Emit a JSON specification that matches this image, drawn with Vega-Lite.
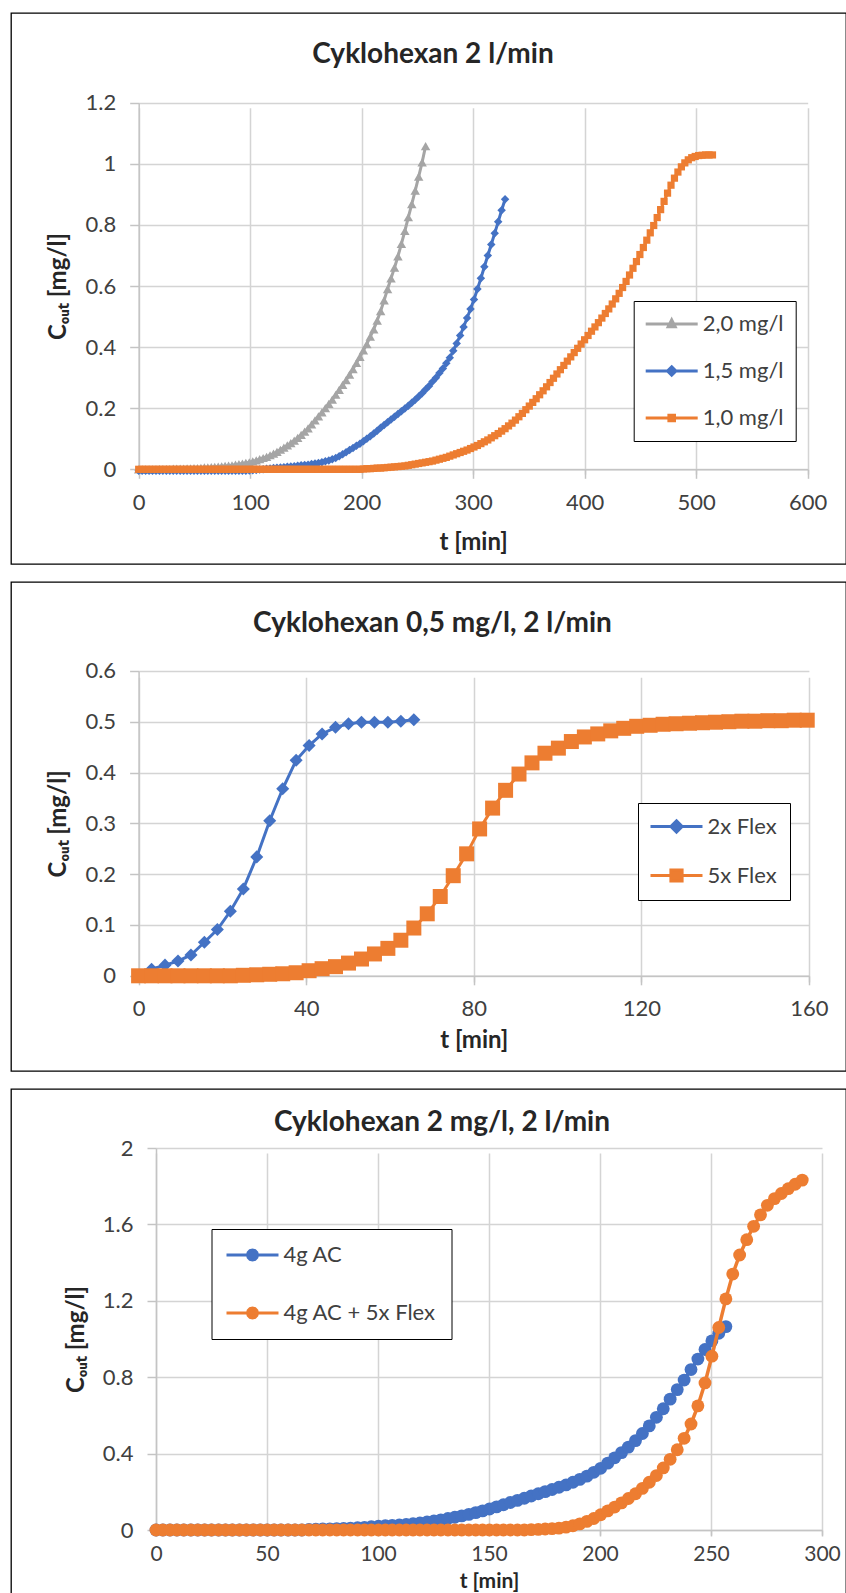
{
"$schema": "https://vega.github.io/schema/vega-lite/v6.json",
"padding": {"left": 10, "top": 12, "right": 0, "bottom": 0},
"spacing": 16,
"resolve": {"scale": {"color": "independent"}, "legend": {"color": "independent"}},
"config": {
 "font": "Lato",
 "view": {"stroke": "#000000", "strokeWidth": 1.3},
 "title": {"font": "Lato", "fontSize": 28, "fontWeight": "bold", "color": "#262626"},
 "axis": {"labelFont": "Lato", "labelFontSize": 22, "labelColor": "#404040", "labelPadding": 14, "labelFlush": false, "labelOverlap": false, "titleFont": "Lato", "titleFontSize": 24, "titleFontWeight": "bold", "titleColor": "#262626", "gridColor": "#D4D4D4", "gridWidth": 1.5, "domainColor": "#C4C4C4", "domainWidth": 1.5, "tickColor": "#C4C4C4", "tickWidth": 1.5, "tickSize": 9},
 "legend": {"labelFont": "Lato", "labelFontSize": 22, "labelColor": "#404040", "strokeColor": "#000000", "fillColor": "#ffffff", "symbolSize": 196, "symbolStrokeWidth": 3, "labelOffset": 35, "direction": "vertical", "orient": "none"}
},
"datasets": {
"p1": [
{"t":0,"a":0,"b":-0.005,"c":0},{"t":3.1,"a":0,"b":-0.005,"c":0},{"t":6.2,"a":0,"b":-0.005,"c":0},{"t":9.3,"a":0,"b":-0.005,"c":0},{"t":12.4,"a":0,"b":-0.005,"c":0},{"t":15.5,"a":0,"b":-0.005,"c":0},{"t":18.6,"a":0.001,"b":-0.005,"c":0},{"t":21.7,"a":0.001,"b":-0.005,"c":0},{"t":24.8,"a":0.001,"b":-0.005,"c":0},{"t":27.9,"a":0.001,"b":-0.005,"c":0},
{"t":31,"a":0.002,"b":-0.005,"c":0},{"t":34.1,"a":0.002,"b":-0.005,"c":0},{"t":37.2,"a":0.002,"b":-0.005,"c":0},{"t":40.3,"a":0.002,"b":-0.005,"c":0},{"t":43.4,"a":0.003,"b":-0.005,"c":0},{"t":46.5,"a":0.003,"b":-0.005,"c":0},{"t":49.6,"a":0.004,"b":-0.005,"c":0},{"t":52.7,"a":0.004,"b":-0.005,"c":0},{"t":55.8,"a":0.005,"b":-0.005,"c":0},{"t":58.9,"a":0.006,"b":-0.005,"c":0},
{"t":62,"a":0.006,"b":-0.005,"c":0},{"t":65.1,"a":0.007,"b":-0.005,"c":0},{"t":68.2,"a":0.008,"b":-0.005,"c":0},{"t":71.3,"a":0.009,"b":-0.005,"c":0},{"t":74.4,"a":0.010,"b":-0.005,"c":0},{"t":77.5,"a":0.011,"b":-0.005,"c":0},{"t":80.6,"a":0.012,"b":-0.005,"c":0},{"t":83.7,"a":0.013,"b":-0.005,"c":0},{"t":86.8,"a":0.015,"b":-0.005,"c":0},{"t":89.9,"a":0.017,"b":-0.005,"c":0},
{"t":93,"a":0.019,"b":-0.005,"c":0},{"t":96.1,"a":0.021,"b":-0.005,"c":0},{"t":99.2,"a":0.023,"b":-0.004,"c":0},{"t":102.3,"a":0.026,"b":-0.003,"c":0},{"t":105.4,"a":0.029,"b":-0.002,"c":0},{"t":108.5,"a":0.033,"b":-0.001,"c":0},{"t":111.6,"a":0.037,"b":0,"c":0},{"t":114.7,"a":0.041,"b":0.002,"c":0},{"t":117.8,"a":0.046,"b":0.003,"c":0},{"t":120.9,"a":0.051,"b":0.004,"c":0},
{"t":124,"a":0.057,"b":0.005,"c":0},{"t":127.1,"a":0.064,"b":0.006,"c":0},{"t":130.2,"a":0.071,"b":0.007,"c":0},{"t":133.3,"a":0.078,"b":0.008,"c":0},{"t":136.4,"a":0.086,"b":0.009,"c":0},{"t":139.5,"a":0.094,"b":0.010,"c":0},{"t":142.6,"a":0.103,"b":0.012,"c":0},{"t":145.7,"a":0.113,"b":0.013,"c":0},{"t":148.8,"a":0.123,"b":0.014,"c":0},{"t":151.9,"a":0.134,"b":0.015,"c":0},
{"t":155,"a":0.147,"b":0.017,"c":0},{"t":158.1,"a":0.160,"b":0.019,"c":0},{"t":161.2,"a":0.173,"b":0.021,"c":0},{"t":164.3,"a":0.186,"b":0.023,"c":0},{"t":167.4,"a":0.200,"b":0.026,"c":0},{"t":170.5,"a":0.214,"b":0.029,"c":0},{"t":173.6,"a":0.228,"b":0.033,"c":0},{"t":176.7,"a":0.244,"b":0.037,"c":0},{"t":179.8,"a":0.260,"b":0.043,"c":0},{"t":182.9,"a":0.276,"b":0.049,"c":0},
{"t":186,"a":0.292,"b":0.056,"c":0},{"t":189.1,"a":0.310,"b":0.063,"c":0},{"t":192.2,"a":0.328,"b":0.070,"c":0},{"t":195.3,"a":0.348,"b":0.077,"c":0},{"t":198.4,"a":0.368,"b":0.084,"c":0},{"t":201.5,"a":0.389,"b":0.092,"c":0.001},{"t":204.6,"a":0.41,"b":0.100,"c":0.002},{"t":207.7,"a":0.434,"b":0.108,"c":0.002},{"t":210.8,"a":0.458,"b":0.117,"c":0.003},{"t":213.9,"a":0.487,"b":0.126,"c":0.004},
{"t":217,"a":0.518,"b":0.136,"c":0.004},{"t":220.1,"a":0.553,"b":0.145,"c":0.005},{"t":223.2,"a":0.590,"b":0.154,"c":0.006},{"t":226.3,"a":0.625,"b":0.163,"c":0.007},{"t":229.4,"a":0.660,"b":0.172,"c":0.008},{"t":232.5,"a":0.697,"b":0.181,"c":0.009},{"t":235.6,"a":0.738,"b":0.190,"c":0.010},{"t":238.7,"a":0.780,"b":0.199,"c":0.011},{"t":241.8,"a":0.825,"b":0.208,"c":0.013},{"t":244.9,"a":0.868,"b":0.218,"c":0.015},
{"t":248,"a":0.912,"b":0.228,"c":0.017},{"t":251.1,"a":0.958,"b":0.238,"c":0.019},{"t":254.2,"a":1.005,"b":0.249,"c":0.021},{"t":257.3,"a":1.058,"b":0.261,"c":0.023},{"t":260.4,"b":0.273,"c":0.025},{"t":263.5,"b":0.287,"c":0.027},{"t":266.6,"b":0.300,"c":0.030},{"t":269.7,"b":0.315,"c":0.033},{"t":272.8,"b":0.330,"c":0.036},{"t":275.9,"b":0.347,"c":0.039},
{"t":279,"b":0.365,"c":0.043},{"t":282.1,"b":0.388,"c":0.047},{"t":285.2,"b":0.412,"c":0.051},{"t":288.3,"b":0.438,"c":0.055},{"t":291.4,"b":0.466,"c":0.059},{"t":294.5,"b":0.495,"c":0.063},{"t":297.6,"b":0.525,"c":0.068},{"t":300.7,"b":0.556,"c":0.073},{"t":303.8,"b":0.590,"c":0.078},{"t":306.9,"b":0.625,"c":0.084},
{"t":310,"b":0.663,"c":0.090},{"t":313.1,"b":0.700,"c":0.096},{"t":316.2,"b":0.736,"c":0.103},{"t":319.3,"b":0.773,"c":0.110},{"t":322.4,"b":0.810,"c":0.117},{"t":325.5,"b":0.848,"c":0.125},{"t":328.6,"b":0.884,"c":0.133},{"t":331.7,"c":0.142},{"t":334.8,"c":0.151},{"t":337.9,"c":0.161},
{"t":341,"c":0.172},{"t":344.1,"c":0.183},{"t":347.2,"c":0.195},{"t":350.3,"c":0.207},{"t":353.4,"c":0.219},{"t":356.5,"c":0.231},{"t":359.6,"c":0.244},{"t":362.7,"c":0.257},{"t":365.8,"c":0.270},{"t":368.9,"c":0.284},
{"t":372,"c":0.298},{"t":375.1,"c":0.312},{"t":378.2,"c":0.326},{"t":381.3,"c":0.340},{"t":384.4,"c":0.354},{"t":387.5,"c":0.368},{"t":390.6,"c":0.382},{"t":393.7,"c":0.396},{"t":396.8,"c":0.410},{"t":399.9,"c":0.424},
{"t":403,"c":0.438},{"t":406.1,"c":0.452},{"t":409.2,"c":0.466},{"t":412.3,"c":0.480},{"t":415.4,"c":0.495},{"t":418.5,"c":0.510},{"t":421.6,"c":0.525},{"t":424.7,"c":0.541},{"t":427.8,"c":0.558},{"t":430.9,"c":0.576},
{"t":434,"c":0.595},{"t":437.1,"c":0.615},{"t":440.2,"c":0.636},{"t":443.3,"c":0.658},{"t":446.4,"c":0.680},{"t":449.5,"c":0.703},{"t":452.6,"c":0.726},{"t":455.7,"c":0.750},{"t":458.8,"c":0.774},{"t":461.9,"c":0.798},
{"t":465,"c":0.824},{"t":468.1,"c":0.850},{"t":471.2,"c":0.877},{"t":474.3,"c":0.904},{"t":477.4,"c":0.930},{"t":480.5,"c":0.953},{"t":483.6,"c":0.973},{"t":486.7,"c":0.990},{"t":489.8,"c":1.003},{"t":492.9,"c":1.013},
{"t":496,"c":1.020},{"t":499.1,"c":1.024},{"t":502.2,"c":1.027},{"t":505.3,"c":1.028},{"t":508.4,"c":1.029},{"t":511.5,"c":1.029},{"t":514.6,"c":1.029}
],
"p2": [
{"t":0,"a":0,"b":0},{"t":3.1,"a":0.013,"b":0},{"t":6.3,"a":0.021,"b":0},{"t":9.4,"a":0.029,"b":0},{"t":12.5,"a":0.041,"b":0},{"t":15.7,"a":0.066,"b":0},{"t":18.8,"a":0.091,"b":0},{"t":21.9,"a":0.127,"b":0},{"t":25,"a":0.171,"b":0.001},{"t":28.2,"a":0.234,"b":0.002},
{"t":31.3,"a":0.305,"b":0.003},{"t":34.4,"a":0.368,"b":0.004},{"t":37.6,"a":0.424,"b":0.006},{"t":40.7,"a":0.453,"b":0.010},{"t":43.8,"a":0.476,"b":0.014},{"t":47,"a":0.489,"b":0.018},{"t":50.1,"a":0.496,"b":0.025},{"t":53.2,"a":0.499,"b":0.033},{"t":56.3,"a":0.499,"b":0.043},{"t":59.5,"a":0.499,"b":0.054},
{"t":62.6,"a":0.501,"b":0.070},{"t":65.7,"a":0.504,"b":0.094},{"t":68.9,"b":0.122},{"t":72,"b":0.156},{"t":75.1,"b":0.197},{"t":78.3,"b":0.240},{"t":81.4,"b":0.289},{"t":84.5,"b":0.330},{"t":87.6,"b":0.365},{"t":90.8,"b":0.397},
{"t":93.9,"b":0.419},{"t":97,"b":0.438},{"t":100.2,"b":0.448},{"t":103.3,"b":0.461},{"t":106.4,"b":0.470},{"t":109.6,"b":0.476},{"t":112.7,"b":0.482},{"t":115.8,"b":0.487},{"t":118.9,"b":0.491},{"t":122.1,"b":0.493},
{"t":125.2,"b":0.495},{"t":128.3,"b":0.496},{"t":131.5,"b":0.497},{"t":134.6,"b":0.498},{"t":137.7,"b":0.499},{"t":140.9,"b":0.5},{"t":144,"b":0.501},{"t":147.1,"b":0.501},{"t":150.2,"b":0.502},{"t":153.4,"b":0.502},
{"t":156.5,"b":0.503},{"t":159.6,"b":0.503}
],
"p3": [
{"t":0,"a":0,"b":0},{"t":3.1,"a":0,"b":0},{"t":6.3,"a":0,"b":0},{"t":9.4,"a":0,"b":0},{"t":12.5,"a":0,"b":0},{"t":15.7,"a":0,"b":0},{"t":18.8,"a":0,"b":0},{"t":21.9,"a":0,"b":0},{"t":25,"a":0,"b":0},{"t":28.2,"a":0,"b":0},
{"t":31.3,"a":0,"b":0},{"t":34.4,"a":0,"b":0},{"t":37.6,"a":0,"b":0},{"t":40.7,"a":0,"b":0},{"t":43.8,"a":0,"b":0},{"t":47,"a":0,"b":0},{"t":50.1,"a":0,"b":0},{"t":53.2,"a":0,"b":0},{"t":56.3,"a":0,"b":0},{"t":59.5,"a":0,"b":0},
{"t":62.6,"a":0,"b":0},{"t":65.7,"a":0,"b":0},{"t":68.9,"a":0.003,"b":0},{"t":72,"a":0.004,"b":0},{"t":75.1,"a":0.005,"b":0},{"t":78.3,"a":0.006,"b":0},{"t":81.4,"a":0.007,"b":0},{"t":84.5,"a":0.008,"b":0},{"t":87.6,"a":0.010,"b":0},{"t":90.8,"a":0.012,"b":0},
{"t":93.9,"a":0.014,"b":0},{"t":97,"a":0.017,"b":0},{"t":100.2,"a":0.020,"b":0},{"t":103.3,"a":0.022,"b":0},{"t":106.4,"a":0.024,"b":0},{"t":109.6,"a":0.026,"b":0},{"t":112.7,"a":0.029,"b":0},{"t":115.8,"a":0.033,"b":0},{"t":118.9,"a":0.037,"b":0},{"t":122.1,"a":0.042,"b":0},
{"t":125.2,"a":0.047,"b":0},{"t":128.3,"a":0.053,"b":0},{"t":131.5,"a":0.060,"b":0},{"t":134.6,"a":0.067,"b":0},{"t":137.7,"a":0.074,"b":0},{"t":140.9,"a":0.082,"b":0},{"t":144,"a":0.091,"b":0},{"t":147.1,"a":0.100,"b":0},{"t":150.2,"a":0.110,"b":0},{"t":153.4,"a":0.121,"b":0},
{"t":156.5,"a":0.132,"b":0},{"t":159.6,"a":0.144,"b":0},{"t":162.8,"a":0.155,"b":0},{"t":165.9,"a":0.166,"b":0},{"t":169,"a":0.178,"b":0.002},{"t":172.2,"a":0.190,"b":0.003},{"t":175.3,"a":0.201,"b":0.005},{"t":178.4,"a":0.212,"b":0.007},{"t":181.5,"a":0.224,"b":0.010},{"t":184.7,"a":0.236,"b":0.015},
{"t":187.8,"a":0.250,"b":0.022},{"t":190.9,"a":0.265,"b":0.032},{"t":194.1,"a":0.282,"b":0.045},{"t":197.2,"a":0.302,"b":0.060},{"t":200.3,"a":0.323,"b":0.080},{"t":203.5,"a":0.350,"b":0.100},{"t":206.6,"a":0.378,"b":0.120},{"t":209.7,"a":0.405,"b":0.142},{"t":212.8,"a":0.434,"b":0.165},{"t":216,"a":0.468,"b":0.190},
{"t":219.1,"a":0.505,"b":0.218},{"t":222.2,"a":0.545,"b":0.250},{"t":225.4,"a":0.590,"b":0.285},{"t":228.5,"a":0.635,"b":0.325},{"t":231.6,"a":0.685,"b":0.370},{"t":234.8,"a":0.735,"b":0.420},{"t":237.9,"a":0.785,"b":0.480},{"t":241,"a":0.840,"b":0.555},{"t":244.1,"a":0.895,"b":0.650},{"t":247.3,"a":0.945,"b":0.770},
{"t":250.4,"a":0.990,"b":0.910},{"t":253.5,"a":1.030,"b":1.060},{"t":256.7,"a":1.065,"b":1.210},{"t":259.8,"b":1.340},{"t":262.9,"b":1.440},{"t":266.1,"b":1.520},{"t":269.2,"b":1.590},{"t":272.3,"b":1.650},{"t":275.4,"b":1.700},{"t":278.6,"b":1.735},
{"t":281.7,"b":1.762},{"t":284.8,"b":1.787},{"t":287.9,"b":1.810},{"t":291.1,"b":1.832}
]
},
"vconcat": [
{
 "width": 835, "height": 551,
 "title": {"text": "Cyklohexan 2 l/min", "offset": -56, "dx": 4.5},
 "data": {"name": "p1"},
 "transform": [{"fold": ["a", "b", "c"], "as": ["k", "v"]}, {"filter": "isValid(datum.v)"}],
 "encoding": {
  "x": {"field": "t", "type": "quantitative", "scale": {"domain": [0, 600], "range": [127.7, 796.7], "nice": false, "zero": false}, "axis": {"values": [0, 100, 200, 300, 400, 500, 600], "offset": -94.7, "title": "t [min]", "titlePadding": 17}},
  "y": {"field": "v", "type": "quantitative", "scale": {"domain": [0, 1.2], "range": [456.3, 89.7], "nice": false, "zero": false}, "axis": {"values": [0, 0.2, 0.4, 0.6, 0.8, 1, 1.2], "format": "~g", "offset": -127.7, "title": "Cₒᵤₜ [mg/l]", "titlePadding": 14}},
  "color": {"field": "k", "type": "nominal", "scale": {"domain": ["a", "b", "c"], "range": ["#A5A5A5", "#4472C4", "#ED7D31"]},
   "legend": {"legendX": 622.7, "legendY": 288, "title": null, "padding": 12, "rowPadding": 25,
    "labelExpr": "datum.label == 'a' ? '2,0 mg/l' : datum.label == 'b' ? '1,5 mg/l' : '1,0 mg/l'",
    "encode": {"symbols": {"update": {
     "shape": {"signal": "datum.value == 'a' ? 'M-1.571,0H5.857M2.143,-0.6L2.643,0.4L1.643,0.4Z' : datum.value == 'b' ? 'M-1.571,0H5.857M2.143,-0.6L2.743,0L2.143,0.6L1.543,0Z' : 'M-1.571,0H5.857M1.743,-0.4H2.543V0.4H1.743Z'"},
     "fill": {"signal": "datum.value == 'a' ? '#A5A5A5' : datum.value == 'b' ? '#4472C4' : '#ED7D31'"},
     "stroke": {"signal": "datum.value == 'a' ? '#A5A5A5' : datum.value == 'b' ? '#4472C4' : '#ED7D31'"},
     "strokeWidth": {"value": 3}, "size": {"value": 196}, "opacity": {"value": 1}}}}}}
 },
 "layer": [
  {"transform": [{"filter": "datum.k == 'a'"}], "mark": {"type": "line", "strokeWidth": 3}},
  {"transform": [{"filter": "datum.k == 'a'"}], "mark": {"type": "point", "shape": "triangle-up", "filled": true, "size": 90, "opacity": 1}},
  {"transform": [{"filter": "datum.k == 'b'"}], "mark": {"type": "line", "strokeWidth": 3}},
  {"transform": [{"filter": "datum.k == 'b'"}], "mark": {"type": "point", "shape": "diamond", "filled": true, "size": 72, "opacity": 1}},
  {"transform": [{"filter": "datum.k == 'c'"}], "mark": {"type": "line", "strokeWidth": 3}},
  {"transform": [{"filter": "datum.k == 'c'"}], "mark": {"type": "point", "shape": "square", "filled": true, "size": 52, "opacity": 1}}
 ]
},
{
 "width": 835, "height": 489,
 "title": {"text": "Cyklohexan 0,5 mg/l, 2 l/min", "offset": -56, "dx": 4},
 "data": {"name": "p2"},
 "transform": [{"fold": ["a", "b"], "as": ["k", "v"]}, {"filter": "isValid(datum.v)"}],
 "encoding": {
  "x": {"field": "t", "type": "quantitative", "scale": {"domain": [0, 160], "range": [127.6, 797.9], "nice": false, "zero": false}, "axis": {"values": [0, 40, 80, 120, 160], "offset": -95.2, "title": "t [min]", "titlePadding": 9}},
  "y": {"field": "v", "type": "quantitative", "scale": {"domain": [0, 0.6], "range": [393.8, 88.9], "nice": false, "zero": false}, "axis": {"values": [0, 0.1, 0.2, 0.3, 0.4, 0.5, 0.6], "format": "~g", "offset": -127.6, "title": "Cₒᵤₜ [mg/l]", "titlePadding": 14}},
  "color": {"field": "k", "type": "nominal", "scale": {"domain": ["a", "b"], "range": ["#4472C4", "#ED7D31"]},
   "legend": {"legendX": 627, "legendY": 221, "title": null, "padding": 12.5, "rowPadding": 25,
    "labelExpr": "datum.label == 'a' ? '2x Flex' : '5x Flex'",
    "encode": {"symbols": {"update": {
     "shape": {"signal": "datum.value == 'a' ? 'M-1.571,0H5.857M2.143,-0.8L2.943,0L2.143,0.8L1.343,0Z' : 'M-1.571,0H5.857M1.343,-0.8H2.943V0.8H1.343Z'"},
     "fill": {"signal": "datum.value == 'a' ? '#4472C4' : '#ED7D31'"},
     "stroke": {"signal": "datum.value == 'a' ? '#4472C4' : '#ED7D31'"},
     "strokeWidth": {"value": 3}, "size": {"value": 196}, "opacity": {"value": 1}}}}}}
 },
 "layer": [
  {"transform": [{"filter": "datum.k == 'a'"}], "mark": {"type": "line", "strokeWidth": 3}},
  {"transform": [{"filter": "datum.k == 'a'"}], "mark": {"type": "point", "shape": "diamond", "filled": true, "size": 170, "opacity": 1}},
  {"transform": [{"filter": "datum.k == 'b'"}], "mark": {"type": "line", "strokeWidth": 3}},
  {"transform": [{"filter": "datum.k == 'b'"}], "mark": {"type": "point", "shape": "square", "filled": true, "size": 225, "opacity": 1}}
 ]
},
{
 "width": 835, "height": 505,
 "title": {"text": "Cyklohexan 2 mg/l, 2 l/min", "offset": -48, "dx": 13.5},
 "data": {"name": "p3"},
 "transform": [{"fold": ["a", "b"], "as": ["k", "v"]}, {"filter": "isValid(datum.v)"}],
 "encoding": {
  "x": {"field": "t", "type": "quantitative", "scale": {"domain": [0, 300], "range": [145, 811], "nice": false, "zero": false}, "axis": {"values": [0, 50, 100, 150, 200, 250, 300], "offset": -64, "title": "t [min]", "titlePadding": 6, "tickSize": 6, "labelPadding": 7, "labelFontSize": 21, "titleFontSize": 21}},
  "y": {"field": "v", "type": "quantitative", "scale": {"domain": [0, 2], "range": [441, 59], "nice": false, "zero": false}, "axis": {"values": [0, 0.4, 0.8, 1.2, 1.6, 2], "format": "~g", "offset": -145, "title": "Cₒᵤₜ [mg/l]", "titlePadding": 14}},
  "color": {"field": "k", "type": "nominal", "scale": {"domain": ["a", "b"], "range": ["#4472C4", "#ED7D31"]},
   "legend": {"legendX": 200.5, "legendY": 140, "title": null, "padding": 15, "rowPadding": 36,
    "labelExpr": "datum.label == 'a' ? '4g AC' : '4g AC + 5x Flex'",
    "encode": {"symbols": {"update": {
     "shape": {"value": "M-1.571,0H5.857M2.857,0L2.761,0.357L2.5,0.618L2.143,0.714L1.786,0.618L1.525,0.357L1.429,0L1.525,-0.357L1.786,-0.618L2.143,-0.714L2.5,-0.618L2.761,-0.357Z"},
     "fill": {"signal": "datum.value == 'a' ? '#4472C4' : '#ED7D31'"},
     "stroke": {"signal": "datum.value == 'a' ? '#4472C4' : '#ED7D31'"},
     "strokeWidth": {"value": 3}, "size": {"value": 196}, "opacity": {"value": 1}}}}}}
 },
 "layer": [
  {"transform": [{"filter": "datum.k == 'a'"}], "mark": {"type": "line", "strokeWidth": 3.5}},
  {"transform": [{"filter": "datum.k == 'a'"}], "mark": {"type": "point", "shape": "circle", "filled": true, "size": 165, "opacity": 1}},
  {"transform": [{"filter": "datum.k == 'b'"}], "mark": {"type": "line", "strokeWidth": 3.5}},
  {"transform": [{"filter": "datum.k == 'b'"}], "mark": {"type": "point", "shape": "circle", "filled": true, "size": 165, "opacity": 1}}
 ]
}
]
}
